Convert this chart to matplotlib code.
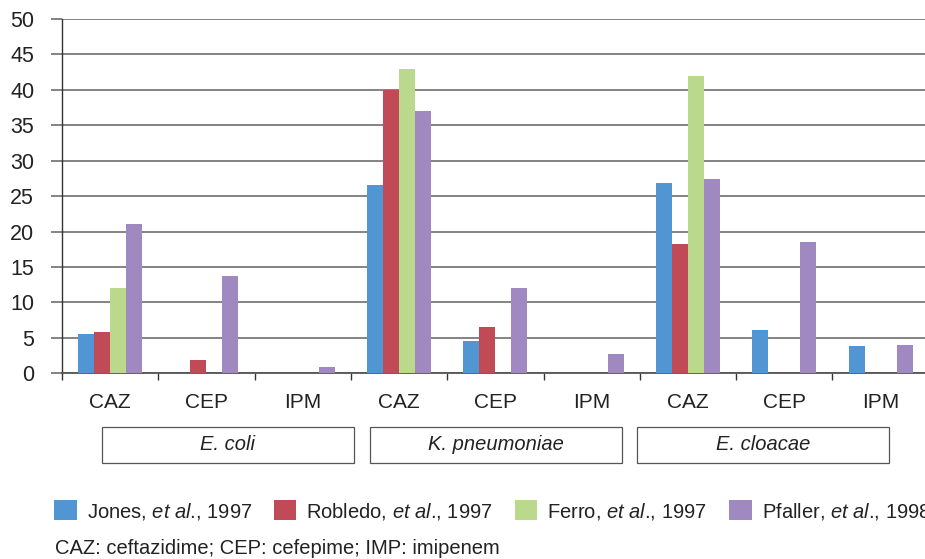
import numpy as np
import matplotlib
matplotlib.use("Agg")
import matplotlib.pyplot as plt
from matplotlib.patches import Rectangle

plt.rcParams["font.family"] = ["Liberation Sans", "DejaVu Sans"]
plt.rcParams["mathtext.fontset"] = "custom"
plt.rcParams["mathtext.rm"] = "Liberation Sans"
plt.rcParams["mathtext.it"] = "Liberation Sans:italic"

# data
categories = ["CAZ", "CEP", "IPM", "CAZ", "CEP", "IPM", "CAZ", "CEP", "IPM"]
organisms = ["E. coli", "K. pneumoniae", "E. cloacae"]

jones = [5.6, 0, 0, 26.6, 4.5, 0, 26.8, 6.1, 3.8]
robledo = [5.8, 1.9, 0, 40.0, 6.6, 0, 18.2, 0, 0]
ferro = [12.1, 0, 0, 42.9, 0, 0, 41.9, 0, 0]
pfaller = [21.1, 13.8, 0.9, 37.0, 12.1, 2.7, 27.4, 18.5, 4.0]

# period kept outside mathtext: mathtext pads punctuation with extra space
series_labels = [
    "Jones, $\\mathit{et\\ al}$., 1997",
    "Robledo, $\\mathit{et\\ al}$., 1997",
    "Ferro, $\\mathit{et\\ al}$., 1997",
    "Pfaller, $\\mathit{et\\ al}$., 1998",
]
colors = ["#5196D2", "#C04B57", "#BAD98C", "#A088C0"]

W, H = 925, 559
fig = plt.figure(figsize=(W / 100, H / 100), dpi=100)

# axes in pixel terms: left spine at 62, zero at 373, 50 at 19, slot 96.3 px
ax = fig.add_axes([62 / W, 1 - 373.3 / H, 9 * 96.3 / W, 354.3 / H])

x = np.arange(len(categories))
bw = 0.166
series = [jones, robledo, ferro, pfaller]
handles = []
for i, (vals, col) in enumerate(zip(series, colors)):
    b = ax.bar(x + (i - 1.5) * bw, vals, width=bw, color=col,
               edgecolor="none", zorder=3)
    handles.append(b)

ax.set_xlim(-0.5, len(categories) - 0.5)
ax.set_ylim(0, 50)
ax.set_yticks(np.arange(0, 51, 5))
ax.yaxis.grid(True, color="#7a7a7a", linewidth=1.3, zorder=0)
ax.set_axisbelow(True)

for s in ["top", "right"]:
    ax.spines[s].set_visible(False)
ax.spines["left"].set_color("#333333")
ax.spines["left"].set_linewidth(1.0)
ax.spines["bottom"].set_color("#555555")
ax.spines["bottom"].set_linewidth(1.3)

ax.tick_params(axis="y", direction="out", length=8, width=1.3,
               color="#7a7a7a", pad=12, labelsize=15.5, labelcolor="#222222")

ax.set_xticks(x)
ax.set_xticklabels(categories, fontsize=15, color="#222222")
ax.tick_params(axis="x", which="major", length=0, pad=14)
ax.set_xticks(np.arange(len(categories) + 1) - 0.5, minor=True)
ax.tick_params(axis="x", which="minor", direction="out", length=5,
               width=1.0, color="#333333")

# organism boxes below the category labels
box_lefts = [102, 370, 637]
box_w, box_top, box_h = 252, 427, 36
for name, bx in zip(organisms, box_lefts):
    fig.patches.append(Rectangle((bx / W, 1 - (box_top + box_h) / H),
                                 box_w / W, box_h / H,
                                 transform=fig.transFigure, fill=False,
                                 edgecolor="#555555", linewidth=0.9))
    fig.text((bx + box_w / 2) / W, 1 - (box_top + box_h / 2) / H, name,
             style="italic", fontsize=14.5, ha="center", va="center",
             color="#222222")

fig.legend(handles, series_labels, loc="center left",
           bbox_to_anchor=(54 / W, 1 - 511 / H), ncol=4, frameon=False,
           fontsize=14.5, handlelength=1.12, handleheight=1.1,
           handletextpad=0.5, columnspacing=1.08, borderpad=0,
           borderaxespad=0, labelcolor="#222222")

fig.text(55 / W, 1 - 549 / H, "CAZ: ceftazidime; CEP: cefepime; IMP: imipenem",
         fontsize=14.5, ha="left", va="center", color="#222222")

fig.savefig("out.png", dpi=100)
